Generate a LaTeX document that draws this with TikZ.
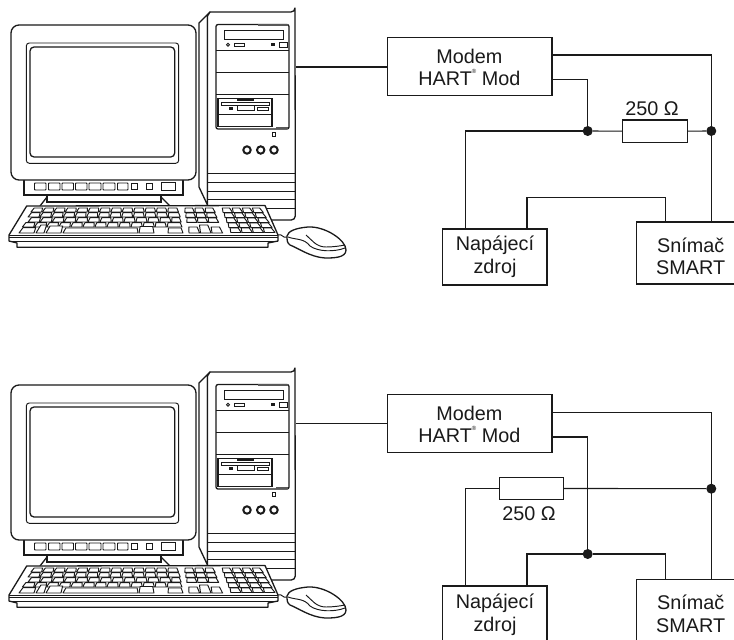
\documentclass[tikz,border=0pt]{standalone}
\usepackage{fontspec}
\setmainfont{Liberation Sans}
\usetikzlibrary{calc}
\definecolor{ink}{HTML}{1A1A1A}
\tikzset{
  x=1pt,y=-1pt,
  wire/.style={draw=ink,line width=1.1pt},
  pc/.style={draw=ink,line width=1.3pt},
  pcthin/.style={draw=ink,line width=.95pt},
  pcthick/.style={draw=ink,line width=1.7pt},
  keycap/.style={draw=ink,line width=.95pt,fill=white,line join=round},
  blockbox/.style={draw=ink,line width=1.1pt,fill=white,inner sep=0pt},
  blocktext/.style={inner sep=0pt,align=center,font=\fontsize{19.8}{22.6}\selectfont,text=ink},
  resistor/.style={draw=ink,line width=1.1pt,fill=white,minimum width=64.5pt,minimum height=22.7pt,inner sep=0pt},
  dot/.style={circle,fill=ink,inner sep=0pt,minimum size=10pt},
  lbl/.style={inner sep=0pt,font=\fontsize{19.8}{22}\selectfont,text=ink},
}
\newcommand{\hartmark}{\raisebox{.62em}{\fontsize{6}{6}\selectfont ®}}
% one key, given in the coordinates of the keyboard's front edge; perspective narrows it towards the back
\newcommand{\kk}[4]{%
  \pgfmathsetmacro{\sa}{1-(233-#2)*0.0045}%
  \pgfmathsetmacro{\sb}{1-(233-#2-#4)*0.0045}%
  \pgfmathsetmacro{\xa}{145+(#1-145)*\sa}%
  \pgfmathsetmacro{\xb}{145+(#1+#3-145)*\sa}%
  \pgfmathsetmacro{\xc}{145+(#1+#3-145)*\sb}%
  \pgfmathsetmacro{\xd}{145+(#1-145)*\sb}%
  \pgfmathsetmacro{\yb}{#2+#4}%
  \path[keycap] (\xa+1,#2) -- (\xb-1,#2) -- (\xc,\yb) -- (\xd,\yb) -- cycle;%
}
\newcommand{\pcdraw}{%
  % tower
  \path[pc,fill=white,line join=round] (199,23) -- (210,12) -- (207.5,16) -- (207.5,205) -- (199,187) -- cycle;
  \path[pc,fill=white,line join=round] (207.5,205) -- (207.5,16) -- (210,12) -- (291,12) arc[start angle=90,end angle=0,radius=4] -- (295.3,216) arc[start angle=0,end angle=90,radius=4] -- (207.5,220) -- cycle;
  \draw[pcthin] (207.5,173.7) -- (295,173.7) (207.5,182) -- (295,182) (207.5,191) -- (295,191) (207.5,199.5) -- (295,199.5) (207.5,208) -- (295,208);
  \draw[pc,rounded corners=2pt] (216,24.5) rectangle (289,129);
  \draw[pcthick,gray!70!black] (258,25) -- (288,25) (276,128) -- (288,128);
  \draw[pcthin] (216,50) -- (289,50) (216,72.3) -- (289,72.3) (216,94.7) -- (289,94.7);
  \draw[pcthin] (224,30) rectangle (283,39);
  \draw[pcthin] (228,44.7) circle[radius=1.5];
  \draw[pcthin] (234.5,43) rectangle (244,46);
  \fill[ink] (271,43.3) rectangle (275,45.5);
  \draw[pcthin] (279,42.5) rectangle (287.5,47);
  \draw[pc,fill=white] (218,98.7) rectangle (272,126.7);
  \draw[pcthin] (218,114) -- (272,114);
  \draw[pcthin] (221,102) rectangle (269,105);
  \draw[pcthick] (237,100) -- (254,100);
  \draw[pcthin,fill=white] (237,105) rectangle (254,110.3);
  \fill[ink] (229,107.3) rectangle (233,110);
  \draw[pcthin] (257,107) rectangle (268,110);
  \draw[pcthin] (272.8,132.3) rectangle (275,136.8);
  \foreach \cx in {247,260.7,274}{\draw[line width=2pt,ink] (\cx,150) circle[radius=3.7];}
  % monitor
  \draw[pc,fill=white] (47,194) -- (47,202) -- (161,202) -- (161,194);
  \draw[pc] (47,197) -- (40,206) (161,197) -- (170,206);
  \draw[pc,fill=white] (24,178) rectangle (183,195);
  \draw[pc,fill=white,rounded corners=8pt] (11,25) rectangle (196,180);
  \draw[pcthin,rounded corners=3pt] (26.3,43) rectangle (178.7,163.3);
  \draw[pc,rounded corners=4pt] (30,47) rectangle (174.7,157);
  \foreach \a/\b in {34.5/46,48.5/60,62/73.5,75.5/87,89/101,103/115,117.5/128}{\draw[pcthin,rounded corners=.6pt] (\a,183) rectangle (\b,190);}
  \draw[pcthin] (131.3,183.5) rectangle (137.3,189.5) (146.7,183.5) rectangle (152.7,189.5) (161.7,182.3) rectangle (175.7,190.7);
  % keyboard
  \path[pc,fill=white,line join=round] (26.7,206) -- (265,205.5) -- (278,235) -- (278,241) -- (268,243) -- (268,247.3) -- (17,247.3) -- (17,243) -- (9,241) -- (9,235) -- cycle;
  \draw[pcthin] (9,235.5) -- (278,235.5) (9,237.5) -- (278,237.5) (9,241) -- (278,241);
  % main block
  \foreach \i in {0,...,12}{\kk{19+\i*12.6}{208}{11.8}{4}}
  \foreach \i in {0,...,11}{\kk{19+\i*12.6}{212.6}{11.8}{4.4}}
  \kk{170}{212.6}{13}{4.4}
  \foreach \i in {0,...,11}{\kk{22+\i*12.6}{217.6}{11.8}{4.4}}
  \kk{173}{217.6}{10}{4.4}
  \foreach \i in {0,...,11}{\kk{19+\i*12.4}{222.6}{11.6}{4.4}}
  \kk{168}{222.6}{15}{4.4}
  \kk{19}{227.6}{15}{5.4}\kk{36}{225}{8}{8}\kk{46}{226}{15}{7}
  \kk{63}{228}{75}{5}\kk{139}{226.5}{15}{6.5}\kk{168}{228}{15}{5}
  % navigation block
  \foreach \r in {208,213,218}{\foreach \i in {0,1,2}{\kk{189+\i*11.4}{\r}{10.6}{4.4}}}
  \kk{189}{227}{10.6}{6}\kk{200.5}{225}{10.6}{8}\kk{212}{227}{10.6}{6}
  % numeric block
  \foreach \r in {208,213,218,223,228}{\foreach \i in {0,1,2,3}{\kk{231+\i*11.3}{\r}{10.4}{4.5}}}
  % mouse
  \draw[pcthin] (278,235) .. controls (282,233) and (283,239) .. (287,237);
  \path[pc,fill=white] (287,236) .. controls (288,231) and (296,228) .. (308,227) .. controls (325,226) and (346,240) .. (346,250) .. controls (346,258) and (333,258) .. (325,258) .. controls (310,257) and (298,248) .. (290,245) .. controls (287,243) and (287,240) .. (287,236) -- cycle;
  \draw[pcthin] (288,237) .. controls (296,240) and (304,238) .. (310,246) .. controls (318,252) and (335,252) .. (345,248);
  \draw[pcthin] (306,235) .. controls (312,240) and (316,247) .. (326,247) .. controls (333,247) and (340,246) .. (345,245);
}
\begin{document}
\begin{tikzpicture}
\useasboundingbox (0,0) rectangle (734,640);
\clip (0,0) rectangle (734,640);
\fill[white] (0,0) rectangle (734,640);

\pcdraw
\begin{scope}[shift={(0,360)}]
\pcdraw
\end{scope}

% upper circuit
\coordinate (towerA) at (296,67);
\node[blockbox,minimum width=164.7pt,minimum height=57.7pt] (modemA) at (469.6,66.2) {};
\node[blocktext] (modemAt) at (469.3,67.5) {Modem\\HART\hartmark\ Mod};
\node[blockbox,minimum width=104.3pt,minimum height=56pt] (psuA) at (494.8,257) {};
\node[blocktext] (psuAt) at (495,257) {Napájecí\\zdroj};
\node[blockbox,minimum width=98pt,minimum height=62pt] (smartA) at (685.7,253) {};
\node[blocktext] (smartAt) at (690.7,256.5) {Snímač\\SMART};
\node[resistor] (resA) at (655,131.3) {};
\node[lbl] (labA) at (652,109) {250 Ω};
\node[dot] (jointA) at (587.7,131) {};
\node[dot] (jointB) at (711.3,131) {};
\coordinate (upA) at (552,55);
\coordinate (upB) at (552,79.7);
\coordinate (psuL) at (465.3,229);
\coordinate (psuR) at (527,229);
\coordinate (snsL) at (665.3,222);
\coordinate (loop) at (527,197.3);
\draw[wire] (towerA) -- (modemA.west |- towerA);
\draw[wire] (upA) -| (smartA.north -| jointB);
\draw[wire] (upB) -| (jointA);
\draw[wire] (psuL) |- (jointA);
\draw[wire] (jointA) -- (resA);
\draw[wire] (resA) -- (jointB);
\draw[wire] (psuR) -- (loop) -| (snsL);

% lower circuit
\coordinate (towerC) at (296,423.7);
\node[blockbox,minimum width=164.7pt,minimum height=57.7pt] (modemC) at (469.6,423.2) {};
\node[blocktext] (modemCt) at (469.3,424.5) {Modem\\HART\hartmark\ Mod};
\node[blockbox,minimum width=104.3pt,minimum height=70pt] (psuC) at (494.8,621) {};
\node[blocktext] (psuCt) at (495,614.5) {Napájecí\\zdroj};
\node[blockbox,minimum width=98pt,minimum height=80pt] (smartC) at (685.7,619.3) {};
\node[blocktext] (smartCt) at (690.7,614) {Snímač\\SMART};
\node[resistor] (resC) at (531.3,488.4) {};
\node[lbl] (labC) at (529,513.5) {250 Ω};
\node[dot] (jointC) at (711.3,488.7) {};
\node[dot] (jointD) at (587.7,554) {};
\coordinate (upC) at (552,412.3);
\coordinate (upD) at (552,437);
\coordinate (psuL2) at (465.3,586);
\coordinate (psuR2) at (527,586);
\coordinate (snsL2) at (665.3,579.3);
\draw[wire] (towerC) -- (modemC.west |- towerC);
\draw[wire] (upC) -| (smartC.north -| jointC);
\draw[wire] (upD) -| (jointD);
\draw[wire] (psuL2) |- (resC.west);
\draw[wire] (resC) -- (jointC);
\draw[wire] (psuR2) |- (jointD);
\draw[wire] (jointD) -| (snsL2);
\end{tikzpicture}
\end{document}
